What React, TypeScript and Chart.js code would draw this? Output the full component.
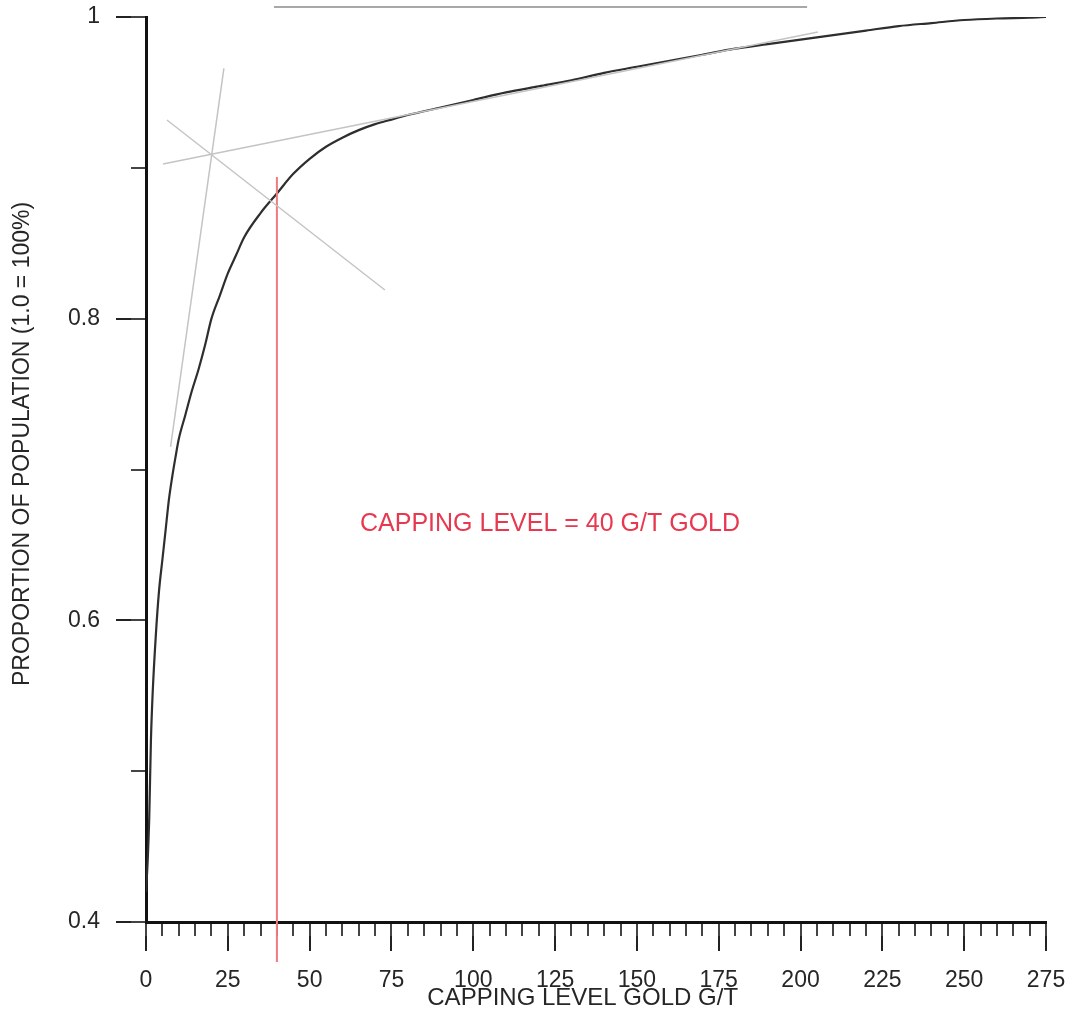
import React, { useEffect, useRef } from "react";
import { Chart, registerables } from "chart.js";

Chart.register(...registerables);

// ---- data ----
const capX = [0, 0.5, 1, 1.5, 2, 3, 4, 5, 6, 7, 8, 9, 10, 12, 14, 16, 18, 20, 22.5, 25, 27.5, 30, 35, 40, 45, 50, 55, 60, 65, 70, 75, 80, 90, 100, 110, 120, 130, 140, 150, 160, 170, 180, 190, 200, 210, 220, 230, 240, 250, 260, 270, 275];
const proportion = [0.42, 0.44, 0.47, 0.52, 0.55, 0.59, 0.62, 0.64, 0.66, 0.68, 0.695, 0.708, 0.72, 0.736, 0.752, 0.766, 0.782, 0.8, 0.815, 0.83, 0.842, 0.854, 0.87, 0.883, 0.896, 0.906, 0.914, 0.92, 0.925, 0.929, 0.932, 0.935, 0.94, 0.945, 0.95, 0.954, 0.958, 0.963, 0.967, 0.971, 0.975, 0.979, 0.982, 0.985, 0.988, 0.991, 0.994, 0.996, 0.998, 0.999, 0.9995, 1.0];

// construction lines (two end points each)
const steepLineX = [7.5, 23.8];
const steepLineY = [0.715, 0.966];
const shallowLineX = [5.2, 205.3];
const shallowLineY = [0.9025, 0.99];
const crossLineX = [6.4, 73];
const crossLineY = [0.9317, 0.819];
const topLineX = [39.1, 202];
const topLineY = [1.0066, 1.0066];
const cappingLineX = [40, 40];
const cappingLineY = [0.894, 0.3735];

const xMajorTicks = [0, 25, 50, 75, 100, 125, 150, 175, 200, 225, 250, 275];
const yTickLabels = ["0.4", "0.6", "0.8", "1"];

const annotationText = "CAPPING LEVEL = 40 G/T GOLD";
const annotationX = 65.4;
const annotationY = 0.664;

const xTitle = "CAPPING LEVEL GOLD G/T    ";
const yTitle = "        PROPORTION OF POPULATION (1.0 = 100%)";

const pts = (xs: number[], ys: number[]) => xs.map((x, i) => ({ x, y: ys[i] }));

const FONT = "'Liberation Sans', Arial, sans-serif";

const annotationPlugin = {
  id: "cappingText",
  afterDatasetsDraw(chart: any) {
    const { ctx, scales } = chart;
    const px = scales.x.getPixelForValue(annotationX);
    const py = scales.y.getPixelForValue(annotationY);
    ctx.save();
    ctx.font = `25px ${FONT}`;
    ctx.fillStyle = "#e8384f";
    ctx.textAlign = "left";
    ctx.textBaseline = "middle";
    ctx.fillText(annotationText, px, py);
    ctx.restore();
  },
};

const zeroPadding = (s: any) => {
  s.paddingTop = 0;
  s.paddingBottom = 0;
  s.paddingLeft = 0;
  s.paddingRight = 0;
};

export default function App() {
  const ref = useRef<HTMLCanvasElement | null>(null);
  useEffect(() => {
    if (!ref.current) return;
    const chart = new Chart(ref.current, {
      type: "line",
      data: {
        datasets: [
          {
            data: pts(steepLineX, steepLineY),
            borderColor: "#c4c4c4",
            borderWidth: 1.5,
            pointRadius: 0,
          },
          {
            data: pts(shallowLineX, shallowLineY),
            borderColor: "#c4c4c4",
            borderWidth: 1.5,
            pointRadius: 0,
          },
          {
            data: pts(crossLineX, crossLineY),
            borderColor: "#c4c4c4",
            borderWidth: 1.5,
            pointRadius: 0,
          },
          {
            data: pts(topLineX, topLineY),
            borderColor: "#a8a8a8",
            borderWidth: 2,
            pointRadius: 0,
            clip: false,
          },
          {
            data: pts(cappingLineX, cappingLineY),
            borderColor: "#f07a82",
            borderWidth: 2,
            pointRadius: 0,
            clip: false,
          },
          {
            data: pts(capX, proportion),
            borderColor: "#2e2e2e",
            borderWidth: 2.2,
            pointRadius: 0,
            cubicInterpolationMode: "monotone",
          },
        ] as any,
      },
      options: {
        responsive: false,
        animation: false,
        devicePixelRatio: 1,
        layout: { padding: { left: 0, top: 17, right: 29, bottom: 0 }, autoPadding: false },
        plugins: { legend: { display: false }, tooltip: { enabled: false } },
        scales: {
          x: {
            type: "linear",
            position: "bottom",
            min: 0,
            max: 275,
            afterBuildTicks: (s: any) => {
              s.ticks = xMajorTicks.map((v) => ({ value: v }));
            },
            afterFit: (s: any) => {
              s.height = 104;
              zeroPadding(s);
            },
            ticks: {
              autoSkip: false,
              maxRotation: 0,
              padding: 16,
              color: "#262626",
              font: { family: FONT, size: 23 },
              callback: (v: any) => String(v),
            },
            grid: {
              drawOnChartArea: false,
              drawTicks: true,
              tickLength: 29,
              color: "#222",
              lineWidth: 2,
            },
            border: { display: true, color: "#111", width: 3 },
            title: {
              display: true,
              text: xTitle,
              color: "#262626",
              font: { family: FONT, size: 24 },
              padding: { top: 0, bottom: 13 },
            },
          },
          xMinor: {
            type: "linear",
            position: { y: 0.4 } as any,
            min: 0,
            max: 275,
            afterFit: zeroPadding,
            ticks: { display: false, stepSize: 5, autoSkip: false },
            grid: {
              drawOnChartArea: false,
              drawTicks: true,
              tickLength: 14,
              color: "#444",
              lineWidth: 2,
            },
            border: { display: false },
          },
          y: {
            type: "linear",
            position: "left",
            min: 0.4,
            max: 1,
            afterBuildTicks: (s: any) => {
              s.ticks = yTickLabels.map((t) => ({ value: parseFloat(t) }));
            },
            afterFit: (s: any) => {
              s.width = 146;
              zeroPadding(s);
            },
            ticks: {
              autoSkip: false,
              padding: 16,
              color: "#262626",
              font: { family: FONT, size: 23 },
              callback: (v: any) => {
                const n = Number(v);
                const match = yTickLabels.find((t) => Math.abs(parseFloat(t) - n) < 1e-6);
                return match ?? "";
              },
            },
            grid: {
              drawOnChartArea: false,
              drawTicks: true,
              tickLength: 30,
              color: "#222",
              lineWidth: 2,
            },
            border: { display: true, color: "#111", width: 3 },
            title: {
              display: true,
              text: yTitle,
              color: "#262626",
              font: { family: FONT, size: 23 },
              padding: { top: 9, bottom: 0 },
            },
          },
          yMinor: {
            type: "linear",
            position: { x: 0 } as any,
            min: 0.4,
            max: 1,
            afterFit: zeroPadding,
            ticks: { display: false, stepSize: 0.1 },
            grid: {
              drawOnChartArea: false,
              drawTicks: true,
              tickLength: 15,
              color: "#444",
              lineWidth: 2,
            },
            border: { display: false },
          },
        },
      } as any,
      plugins: [annotationPlugin],
    });
    return () => chart.destroy();
  }, []);

  return (
    <div style={{ position: "absolute", left: 0, top: 0, width: 1075, height: 1026, background: "#fff" }}>
      <canvas ref={ref} width={1075} height={1026} style={{ display: "block" }} />
    </div>
  );
}
